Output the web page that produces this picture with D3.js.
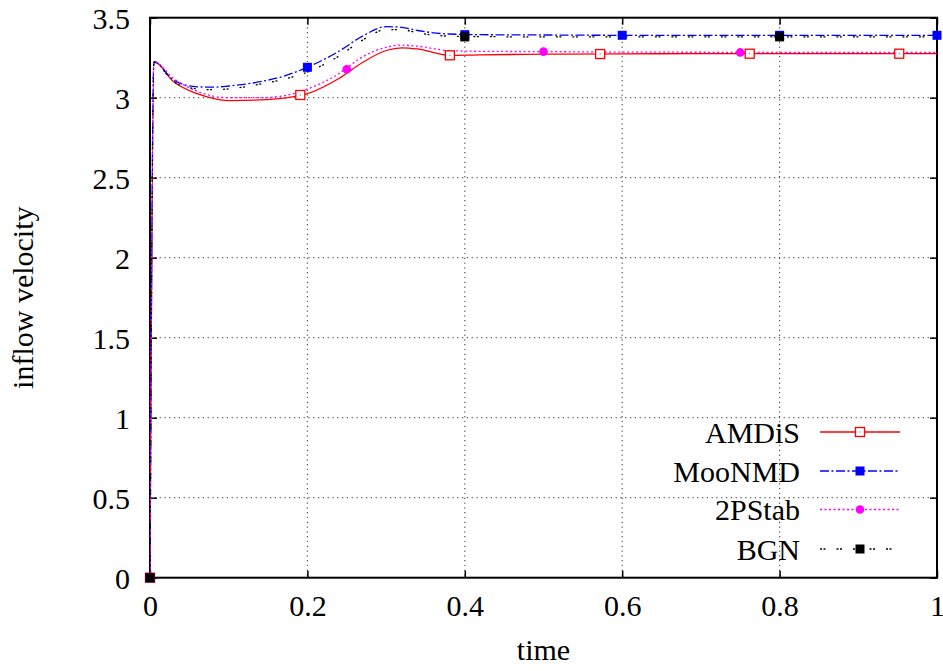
<!DOCTYPE html>
<html>
	<head>
		<title>Inflow velocity</title>
		<script src="https://d3js.org/d3.v7.min.js"></script>
		<style>
			body { margin: 0; background: #fff; }
			text { font-family: "Liberation Serif", "DejaVu Serif", serif; fill: #000; }
		</style>
	</head>
	<body>
		<script>

			// data
			var time = [0, 0.005, 0.03, 0.06, 0.08, 0.1, 0.14, 0.17, 0.2, 0.24, 0.27, 0.3, 0.32, 0.34, 0.38, 0.42, 0.5, 0.6, 0.7, 0.8, 0.9, 1.0];
			var amdis = [0, 3.225, 3.10, 3.025, 2.996, 2.982, 2.986, 2.997, 3.025, 3.12, 3.22, 3.295, 3.312, 3.305, 3.265, 3.268, 3.272, 3.274, 3.275, 3.275, 3.275, 3.275];
			var moonmd = [0, 3.225, 3.11, 3.068, 3.066, 3.073, 3.10, 3.135, 3.19, 3.29, 3.385, 3.444, 3.44, 3.42, 3.398, 3.394, 3.392, 3.39, 3.39, 3.39, 3.39, 3.39];
			var pstab = [0, 3.225, 3.12, 3.04, 3.01, 3.0, 3.0, 3.012, 3.054, 3.15, 3.255, 3.315, 3.329, 3.322, 3.294, 3.29, 3.288, 3.285, 3.284, 3.283, 3.283, 3.283];
			var bgn = [0, 3.22, 3.10, 3.055, 3.05, 3.055, 3.085, 3.115, 3.16, 3.26, 3.36, 3.425, 3.425, 3.405, 3.385, 3.382, 3.38, 3.38, 3.38, 3.38, 3.38, 3.38];

			// marker points [time, value]
			var amdis_marks = [[0, 0], [0.191, 3.017], [0.381, 3.265], [0.572, 3.273], [0.762, 3.275], [0.952, 3.275]];
			var moonmd_marks = [[0, 0], [0.2, 3.19], [0.4, 3.394], [0.6, 3.39], [0.8, 3.39], [1.0, 3.39]];
			var pstab_marks = [[0, 0], [0.25, 3.178], [0.5, 3.288], [0.75, 3.283]];
			var bgn_marks = [[0, 0], [0.4, 3.38], [0.8, 3.38]];

			var x_ticks = [0, 0.2, 0.4, 0.6, 0.8, 1];
			var y_ticks = [0, 0.5, 1, 1.5, 2, 2.5, 3, 3.5];
			var series_names = ["AMDiS", "MooNMD", "2PStab", "BGN"];

			// layout
			var width = 943;
			var height = 671;
			var p_left = 150, p_right = 937, p_top = 17.7, p_bottom = 577.7;

			var svg = d3.select("body").append("svg")
				.attr("width", width)
				.attr("height", height);

			var x = d3.scaleLinear().domain([0, 1]).range([p_left, p_right]);
			var y = d3.scaleLinear().domain([0, 3.5]).range([p_bottom, p_top]);

			// grid
			svg.append("g").selectAll("line")
				.data(x_ticks.slice(1, -1))
				.enter().append("line")
				.attr("x1", function (d) { return x(d); })
				.attr("x2", function (d) { return x(d); })
				.attr("y1", p_top).attr("y2", p_bottom)
				.attr("stroke", "#555").attr("stroke-width", 1.2)
				.attr("stroke-dasharray", "1.2,3.6");
			svg.append("g").selectAll("line")
				.data(y_ticks.slice(1, -1))
				.enter().append("line")
				.attr("y1", function (d) { return y(d); })
				.attr("y2", function (d) { return y(d); })
				.attr("x1", p_left).attr("x2", p_right)
				.attr("stroke", "#555").attr("stroke-width", 1.2)
				.attr("stroke-dasharray", "1.2,3.6");

			// axes with inward ticks, mirrored
			var fs = "30px";
			var xb = svg.append("g").attr("transform", "translate(0," + p_bottom + ")")
				.call(d3.axisBottom(x).tickValues(x_ticks).tickSizeInner(-7).tickSizeOuter(0).tickPadding(17)
					.tickFormat(function (d) { return d3.format("")(d); }));
			var xt = svg.append("g").attr("transform", "translate(0," + p_top + ")")
				.call(d3.axisTop(x).tickValues(x_ticks).tickSizeInner(-7).tickSizeOuter(0).tickFormat(""));
			var yl = svg.append("g").attr("transform", "translate(" + p_left + ",0)")
				.call(d3.axisLeft(y).tickValues(y_ticks).tickSizeInner(-7).tickSizeOuter(0).tickPadding(20)
					.tickFormat(function (d) { return d3.format("")(d); }));
			var yr = svg.append("g").attr("transform", "translate(" + p_right + ",0)")
				.call(d3.axisRight(y).tickValues(y_ticks).tickSizeInner(-7).tickSizeOuter(0).tickFormat(""));
			[xb, xt, yl, yr].forEach(function (g) {
				g.select(".domain").remove();
				g.selectAll("line").attr("stroke", "#000").attr("stroke-width", 1.5);
				g.selectAll("text").style("font-size", fs).style("font-family", "Liberation Serif");
			});
			yl.selectAll("text").attr("dy", "0.35em");

			// frame
			svg.append("rect")
				.attr("x", p_left).attr("y", p_top)
				.attr("width", p_right - p_left).attr("height", p_bottom - p_top)
				.attr("fill", "none").attr("stroke", "#000").attr("stroke-width", 2);

			// axis titles
			svg.append("text")
				.attr("x", (p_left + p_right) / 2).attr("y", 660)
				.attr("text-anchor", "middle").style("font-size", fs)
				.text("time");
			svg.append("text")
				.attr("transform", "translate(33," + ((p_top + p_bottom) / 2) + ") rotate(-90)")
				.attr("text-anchor", "middle").style("font-size", fs)
				.text("inflow velocity");

			// series styles
			var series = [
				{ name: series_names[0], vals: amdis, marks: amdis_marks, color: "#ff0000", dash: null, mark: "open" },
				{ name: series_names[1], vals: moonmd, marks: moonmd_marks, color: "#0000ff", dash: "9,2.5,2,2.5", mark: "square" },
				{ name: series_names[2], vals: pstab, marks: pstab_marks, color: "#ff00ff", dash: "2,2.5", mark: "circle" },
				{ name: series_names[3], vals: bgn, marks: bgn_marks, color: "#000000", dash: "2,1.5,2,11", mark: "square" }
			];

			svg.append("clipPath").attr("id", "clip")
				.append("rect").attr("x", p_left).attr("y", p_top)
				.attr("width", p_right - p_left).attr("height", p_bottom - p_top);

			var line = d3.line()
				.x(function (d) { return x(d[0]); })
				.y(function (d) { return y(d[1]); })
				.curve(d3.curveMonotoneX);

			// function - draw one marker
			function draw_mark(g, s, cx, cy) {
				if (s.mark == "open") {
					g.append("rect").attr("x", cx - 4.5).attr("y", cy - 4.5)
						.attr("width", 9).attr("height", 9)
						.attr("fill", "#fff").attr("stroke", s.color).attr("stroke-width", 1.3);
					g.append("rect").attr("x", cx - 0.5).attr("y", cy - 0.5)
						.attr("width", 1).attr("height", 1).attr("fill", s.color);
				}
				else if (s.mark == "square") {
					g.append("rect").attr("x", cx - 4.5).attr("y", cy - 4.5)
						.attr("width", 9).attr("height", 9).attr("fill", s.color);
				}
				else {
					g.append("circle").attr("cx", cx).attr("cy", cy).attr("r", 4.3).attr("fill", s.color);
				}
			}

			series.forEach(function (s) {
				var pts = time.map(function (t, i) { return [t, s.vals[i]]; });
				svg.append("path")
					.attr("d", line(pts))
					.attr("clip-path", "url(#clip)")
					.attr("fill", "none")
					.attr("stroke", s.color)
					.attr("stroke-width", 1.3)
					.attr("stroke-dasharray", s.dash);
			});
			series.forEach(function (s) {
				var g = svg.append("g");
				s.marks.forEach(function (m) {
					draw_mark(g, s, x(m[0]), y(m[1]));
				});
			});

			// legend
			var leg_y = [432, 471, 509.5, 549];
			series.forEach(function (s, i) {
				var g = svg.append("g");
				g.append("text")
					.attr("x", 800).attr("y", leg_y[i])
					.attr("dy", "0.35em")
					.attr("text-anchor", "end").style("font-size", fs)
					.text(s.name);
				g.append("line")
					.attr("x1", 820).attr("x2", 900)
					.attr("y1", leg_y[i]).attr("y2", leg_y[i])
					.attr("stroke", s.color).attr("stroke-width", 1.3)
					.attr("stroke-dasharray", s.dash);
				draw_mark(g, s, 860, leg_y[i]);
			});

		</script>
	</body>
</html>
